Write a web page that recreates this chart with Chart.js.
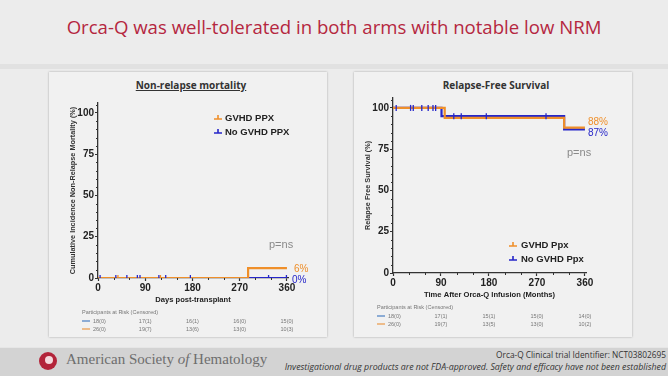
<!DOCTYPE html>
<html>
<head>
<meta charset="utf-8">
<script src="https://cdn.jsdelivr.net/npm/chart.js@4.4.1/dist/chart.umd.min.js"></script>
<style>
  body { margin: 0; width: 668px; height: 376px; background: #ececec; position: relative; overflow: hidden; font-family: "Liberation Sans", Arial, sans-serif; }
  .abs { position: absolute; }
  #title { left: 0; top: 14px; width: 668px; text-align: center; font-family: "Open Sans", sans-serif; font-size: 18.6px; color: #b5273f; }
  #band { left: 0; top: 64px; width: 668px; height: 5px; background: #e1e1e1; }
  .panel { top: 72px; width: 278px; height: 265px; background: #f1f1f1; box-shadow: 0 0 2px rgba(0,0,0,0.3); }
  .ctitle { top: 78px; font-family: "Open Sans", sans-serif; font-weight: bold; font-size: 10px; color: #333; white-space: nowrap; transform: translateX(-50%); }
  #footer { left: 0; top: 347px; width: 668px; height: 29px; background: #d3d3d3; border-top: 1px solid #e6e6e6; }
  #logo { left: 39px; top: 352px; width: 18px; height: 18px; border-radius: 50%; background: #b3243a; }
  #logo div { position: absolute; left: 6px; top: 4px; width: 8px; height: 8px; border-radius: 50%; background: #f4d9dd; }
  #ash { left: 66px; top: 351px; font-family: "Liberation Serif", serif; font-size: 15px; color: #6e6e6e; white-space: nowrap; }
  .note { right: 2px; font-family: "Open Sans", sans-serif; color: #333; white-space: nowrap; }
</style>
</head>
<body>
<div id="title" class="abs">Orca-Q was well-tolerated in both arms with notable low NRM</div>
<div id="band" class="abs"></div>
<div class="panel abs" style="left:49px"></div>
<div class="panel abs" style="left:354px"></div>
<div class="ctitle abs" style="left:191px;text-decoration:underline">Non-relapse mortality</div>
<div class="ctitle abs" style="left:496px">Relapse-Free Survival</div>
<canvas id="nrm" class="abs" width="270" height="239" style="left:52px;top:96px"></canvas>
<canvas id="rfs" class="abs" width="272" height="239" style="left:356px;top:91px"></canvas>
<div id="footer" class="abs"></div>
<div id="logo" class="abs"><div></div></div>
<div id="ash" class="abs">American Society <i>of</i> Hematology</div>
<div class="note abs" style="top:349px;font-size:8.3px">Orca-Q Clinical trial Identifier: NCT03802695</div>
<div class="note abs" style="top:361px;font-size:8.8px;font-style:italic">Investigational drug products are not FDA-approved. Safety and efficacy have not been established</div>

<script>
// tick positions (days) and risk table columns
const riskTimes = [0, 90, 180, 270, 360];

// Non-relapse mortality (cumulative incidence, %)
const nrmGvhdTime = [0, 286, 360];
const nrmGvhdValue = [0, 6, 6];
const nrmNoGvhdTime = [0, 360];
const nrmNoGvhdValue = [0, 0];
const nrmCensorNoGvhd = [4, 34, 55, 75, 80, 116, 129, 176, 325, 359];
const nrmCensorGvhd = [38, 119];
const nrmRiskNoGvhd = ['18(0)', '17(1)', '16(1)', '16(0)', '15(0)'];
const nrmRiskGvhd = ['26(0)', '19(7)', '13(6)', '13(0)', '10(3)'];

// Relapse-free survival (%)
const rfsGvhdTime = [0, 97, 321, 360];
const rfsGvhdValue = [100, 94, 88, 88];
const rfsNoGvhdTime = [0, 91, 321, 360];
const rfsNoGvhdValue = [100, 95, 87, 87];
const rfsCensorNoGvhd = [6, 33, 38, 54, 66, 75, 80, 114, 128, 175, 287];
const rfsRiskNoGvhd = ['18(0)', '17(1)', '15(1)', '15(0)', '14(0)'];
const rfsRiskGvhd = ['26(0)', '19(7)', '13(5)', '13(0)', '10(2)'];

const ORANGE = '#ef8f2a';
const BLUE = '#2626c9';
const AXIS = '#333';

function points(times, values) {
    return times.map((t, i) => ({x: t, y: values[i]}));
}

// value of a step curve at time t (for placing censor marks on it)
function stepAt(times, values, t) {
    let v = values[0];
    for (let i = 0; i < times.length; i++) {
        if (times[i] <= t) v = values[i];
    }
    return v;
}

function censorPoints(list, times, values) {
    return list.map(t => ({x: t, y: stepAt(times, values, t)}));
}

const kmDecor = {
    id: 'kmDecor',
    afterDraw(chart, args, opts) {
        const ctx = chart.ctx;
        const xs = chart.scales.x, ys = chart.scales.y;
        const area = chart.chartArea;
        ctx.save();

        // minor ticks
        ctx.strokeStyle = AXIS;
        ctx.lineWidth = 1;
        ctx.beginPath();
        for (let v = 5; v <= 105; v += 5) {
            if (v % 25 === 0) continue;
            const y = Math.round(ys.getPixelForValue(v)) + 0.5;
            ctx.moveTo(area.left - 2, y);
            ctx.lineTo(area.left, y);
        }
        for (let v = 30; v < 360; v += 30) {
            if (v % 90 === 0) continue;
            const x = Math.round(xs.getPixelForValue(v)) + 0.5;
            ctx.moveTo(x, area.bottom);
            ctx.lineTo(x, area.bottom + 2);
        }
        ctx.stroke();

        // legend
        ctx.textBaseline = 'middle';
        opts.legend.items.forEach((it, i) => {
            const x = opts.legend.x, y = opts.legend.y + i * 14;
            ctx.strokeStyle = it.color;
            ctx.lineWidth = 1.6;
            ctx.beginPath();
            ctx.moveTo(x - 4, y + 1);
            ctx.lineTo(x + 4, y + 1);
            ctx.moveTo(x, y + 1);
            ctx.lineTo(x, y - 3);
            ctx.stroke();
            ctx.fillStyle = '#222';
            ctx.font = 'bold 9.5px "Liberation Sans", Arial, sans-serif';
            ctx.textAlign = 'left';
            ctx.fillText(it.text, x + opts.legend.gap, y);
        });

        // end labels
        ctx.font = '10px "Liberation Sans", Arial, sans-serif';
        opts.ends.forEach(e => {
            ctx.fillStyle = e.color;
            ctx.fillText(e.text, xs.getPixelForValue(360) + e.dx, ys.getPixelForValue(e.value) + e.dy);
        });

        // p value
        ctx.fillStyle = '#8a8a8a';
        ctx.font = '11px "Liberation Sans", Arial, sans-serif';
        ctx.fillText('p=ns', opts.pns.x, opts.pns.y);

        // participants at risk table
        const x0 = xs.getPixelForValue(0);
        const b = area.bottom;
        ctx.font = '5.5px "Liberation Sans", Arial, sans-serif';
        ctx.fillStyle = '#777';
        ctx.fillText('Participants at Risk (Censored)', x0 - 16, b + 34);
        opts.risk.forEach((row, r) => {
            const y = b + 43 + r * 8;
            ctx.strokeStyle = row.color;
            ctx.lineWidth = 1.2;
            ctx.beginPath();
            ctx.moveTo(x0 - 16, y);
            ctx.lineTo(x0 - 8, y);
            ctx.stroke();
            ctx.fillStyle = '#777';
            row.values.forEach((v, i) => {
                if (i === 0) {
                    ctx.textAlign = 'left';
                    ctx.fillText(v, x0 - 5, y);
                } else {
                    ctx.textAlign = 'center';
                    ctx.fillText(v, xs.getPixelForValue(riskTimes[i]), y);
                }
            });
        });
        ctx.restore();
    }
};

function makeChart(id, cfg) {
    const ctx = document.getElementById(id).getContext('2d');
    return new Chart(ctx, {
        type: 'line',
        data: {
            datasets: [{
                data: censorPoints(cfg.censorBlue, cfg.blueTime, cfg.blueValue),
                showLine: false, pointStyle: 'line', rotation: 90, pointRadius: 3,
                borderColor: BLUE, pointBorderWidth: 1.3
            }, {
                data: censorPoints(cfg.censorOrange, cfg.orangeTime, cfg.orangeValue),
                showLine: false, pointStyle: 'line', rotation: 90, pointRadius: 3,
                borderColor: ORANGE, pointBorderWidth: 1.3
            }, {
                data: points(cfg.orangeTime, cfg.orangeValue),
                stepped: true, borderColor: ORANGE, borderWidth: 2.2, pointRadius: 0
            }, {
                data: points(cfg.blueTime, cfg.blueValue),
                stepped: true, borderColor: BLUE, borderWidth: 2.2, pointRadius: 0
            }]
        },
        options: {
            responsive: false,
            devicePixelRatio: 1,
            animation: false,
            layout: {padding: {top: 7, right: cfg.padRight, bottom: 27, left: 0}},
            plugins: {
                legend: {display: false},
                tooltip: {enabled: false},
                kmDecor: cfg.decor
            },
            scales: {
                x: {
                    type: 'linear', min: 0, max: 362,
                    afterBuildTicks: s => { s.ticks = riskTimes.map(v => ({value: v})); },
                    afterFit: s => { s.height = 30; },
                    border: {color: AXIS, width: 1.3},
                    grid: {drawOnChartArea: false, tickLength: 3, tickColor: AXIS, tickWidth: 1.2},
                    ticks: {color: '#222', padding: 1, maxRotation: 0, font: {size: 10, weight: 'bold', family: '"Liberation Sans", Arial'}},
                    title: {display: true, text: cfg.xTitle, color: '#222', padding: {top: 0, bottom: 4},
                        font: {size: 7.6, weight: 'bold', family: '"Liberation Sans", Arial', lineHeight: 1.2}}
                },
                y: {
                    type: 'linear', min: 0, max: 106,
                    afterBuildTicks: s => { s.ticks = [0, 25, 50, 75, 100].map(v => ({value: v})); },
                    afterFit: s => { s.width = cfg.yWidth; },
                    border: {color: AXIS, width: 1.3},
                    grid: {drawOnChartArea: false, tickLength: 3, tickColor: AXIS, tickWidth: 1.2},
                    ticks: {color: '#222', padding: 1, font: {size: 10, weight: 'bold', family: '"Liberation Sans", Arial'}},
                    title: {display: true, text: cfg.yTitle, color: '#333', padding: {top: cfg.yTitlePad, bottom: 0},
                        font: {size: 7.3, weight: 'bold', family: '"Liberation Sans", Arial', lineHeight: 1.2}}
                }
            }
        },
        plugins: [kmDecor]
    });
}

makeChart('nrm', {
    orangeTime: nrmGvhdTime, orangeValue: nrmGvhdValue,
    blueTime: nrmNoGvhdTime, blueValue: nrmNoGvhdValue,
    censorBlue: nrmCensorNoGvhd, censorOrange: nrmCensorGvhd,
    padRight: 34, yWidth: 46, yTitlePad: 17,
    xTitle: 'Days post-transplant',
    yTitle: 'Cumulative Incidence Non-Relapse Mortality (%)',
    decor: {
        legend: {x: 218 - 52, y: 118 - 96, gap: 7, items: [{text: 'GVHD PPX', color: ORANGE}, {text: 'No GVHD PPX', color: BLUE}]},
        ends: [{text: '6%', color: ORANGE, value: 6, dx: 7, dy: 1}, {text: '0%', color: BLUE, value: 0, dx: 5, dy: 2}],
        pns: {x: 269 - 52, y: 245 - 96},
        risk: [{color: '#4a7fc4', values: nrmRiskNoGvhd}, {color: '#ec9a48', values: nrmRiskGvhd}]
    }
});

makeChart('rfs', {
    orangeTime: rfsGvhdTime, orangeValue: rfsGvhdValue,
    blueTime: rfsNoGvhdTime, blueValue: rfsNoGvhdValue,
    censorBlue: rfsCensorNoGvhd, censorOrange: [],
    padRight: 42, yWidth: 37, yTitlePad: 8,
    xTitle: 'Time After Orca-Q Infusion (Months)',
    yTitle: 'Relapse Free Survival (%)',
    decor: {
        legend: {x: 513 - 356, y: 245 - 91, gap: 8, items: [{text: 'GVHD Ppx', color: ORANGE}, {text: 'No GVHD Ppx', color: BLUE}]},
        ends: [{text: '88%', color: ORANGE, value: 88, dx: 3, dy: -5}, {text: '87%', color: BLUE, value: 87, dx: 3, dy: 4}],
        pns: {x: 567 - 356, y: 153 - 91},
        risk: [{color: '#4a7fc4', values: rfsRiskNoGvhd}, {color: '#ec9a48', values: rfsRiskGvhd}]
    }
});
</script>
</body>
</html>
